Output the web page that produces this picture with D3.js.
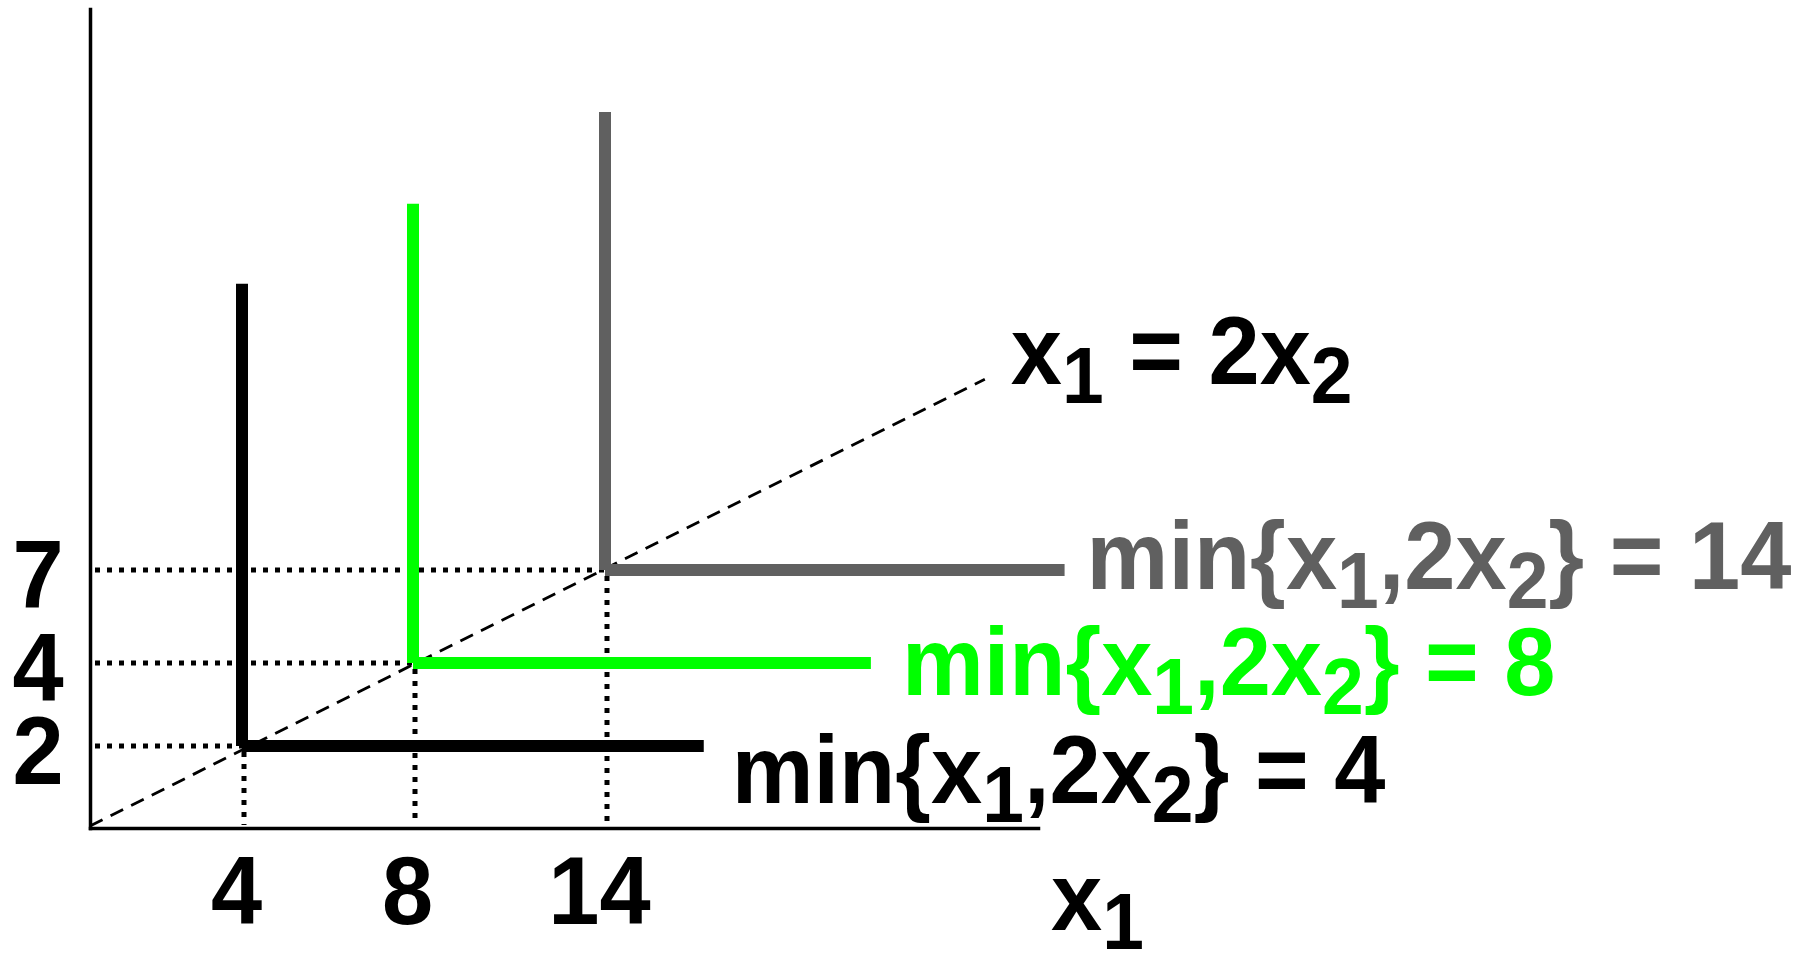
<!DOCTYPE html>
<html>
<head>
<meta charset="utf-8">
<script src="https://cdn.jsdelivr.net/npm/d3@7"></script>
<style>
  html, body { margin: 0; padding: 0; background: #fff; }
  svg text { font-family: "Liberation Sans", Arial, sans-serif; font-weight: bold; }
</style>
</head>
<body>
<svg id="chart" width="1819" height="954"></svg>
<script>
// Leontief indifference curves u = min{x1, 2x2}
const levels = [4, 8, 14]
const cornerX1 = [4, 8, 14]
const cornerX2 = [2, 4, 7]
// how far each arm of the L is drawn
const armTopX2 = [14.5, 16.6, 19]
const armEndX1 = [16.6, 21, 26.1]
const curveColors = ["#000000", "#00ff00", "#606060"]

const xTicks = [4, 8, 14]
const yTicks = [2, 4, 7]
const x1Max = 25.4
const x2Max = 21.7
const rayEnd = [24, 12]   // end of the x1 = 2x2 ray

const fontSize = 92
const subSize = 75
const subShift = 18
const stretch = "scale(1,1.05)"   // the source text is a little taller than Arial

const svg = d3.select("#chart")

// hand drawn diagram, so the ticks are not evenly spaced: piecewise scales
const x = d3.scaleLinear().domain([0, ...xTicks, x1Max]).range([90, 242, 413, 605, 1038])
const y = d3.scaleLinear().domain([0, ...yTicks, x2Max]).range([828, 746, 663, 570, 9])

const data = levels.map((u, i) => ({
  u: u,
  cx: cornerX1[i],
  cy: cornerX2[i],
  top: armTopX2[i],
  end: armEndX1[i],
  color: curveColors[i]
}))

// axes
let xAxis = svg.append("g")
  .attr("transform", "translate(0," + y(0) + ")")
  .call(d3.axisBottom(x).tickValues(xTicks).tickSize(0).tickSizeOuter(0))
let yAxis = svg.append("g")
  .attr("transform", "translate(" + x(0) + ",0)")
  .call(d3.axisLeft(y).tickValues(yTicks).tickSize(0).tickSizeOuter(0))

svg.selectAll(".domain")
  .attr("stroke", "#000")
  .attr("stroke-width", 3.5)
  .attr("stroke-linecap", "square")
svg.selectAll(".tick text")
  .attr("font-size", fontSize)
  .attr("font-family", null)
  .attr("fill", "#000")
  .attr("x", 0)
  .attr("y", 0)
  .attr("dy", 0)
  .attr("text-anchor", "middle")
xAxis.selectAll(".tick text").attr("transform", "translate(-6,96) " + stretch)
yAxis.selectAll(".tick text").attr("transform", "translate(-52,37) " + stretch)

// dotted guides to the axes
let guides = svg.append("g")
  .attr("stroke", "#000")
  .attr("stroke-width", 5)
  .attr("stroke-dasharray", "5,7")
guides.selectAll(".hguide")
  .data(data)
  .enter()
  .append("line")
  .attr("x1", x(0) + 5)
  .attr("x2", d => x(d.cx))
  .attr("y1", d => y(d.cy))
  .attr("y2", d => y(d.cy))
guides.selectAll(".vguide")
  .data(data)
  .enter()
  .append("line")
  .attr("x1", d => x(d.cx) + 2)
  .attr("x2", d => x(d.cx) + 2)
  .attr("y1", d => y(d.cy) + 6)
  .attr("y2", y(0) - 3)

// the ray x1 = 2x2
svg.append("line")
  .attr("x1", x(0))
  .attr("y1", y(0) - 2)
  .attr("x2", x(rayEnd[0]))
  .attr("y2", y(rayEnd[1]))
  .attr("stroke", "#000")
  .attr("stroke-width", 2.8)
  .attr("stroke-dasharray", "14,9")

// L-shaped indifference curves, two butt-ended arms
let curves = svg.selectAll(".curve")
  .data(data)
  .enter()
  .append("g")
  .attr("class", "curve")
  .attr("stroke", d => d.color)
  .attr("stroke-width", 12)
curves.append("line")
  .attr("x1", d => x(d.cx))
  .attr("x2", d => x(d.cx))
  .attr("y1", d => y(d.top))
  .attr("y2", d => y(d.cy))
curves.append("line")
  .attr("x1", d => x(d.cx))
  .attr("x2", d => x(d.end))
  .attr("y1", d => y(d.cy))
  .attr("y2", d => y(d.cy))

// math text helper: parts alternate normal / subscript
const mathText = (sel, parts) => {
  parts.forEach(p => {
    let t = sel.append("tspan").text(p[0])
    if (p[1] === "sub") t.attr("font-size", subSize).attr("dy", subShift)
    if (p[1] === "back") t.attr("dy", -subShift)
  })
}

const place = (px, py) => "translate(" + px + "," + py + ") " + stretch

const labelOffsets = [[28, 57], [31, 32], [22, 19]]

svg.selectAll(".level")
  .data(data)
  .enter()
  .append("text")
  .attr("class", "level")
  .attr("transform", (d, i) => place(x(d.end) + labelOffsets[i][0], y(d.cy) + labelOffsets[i][1]))
  .attr("font-size", fontSize)
  .attr("fill", d => d.color)
  .each(function(d) {
    mathText(d3.select(this), [["min{x"], ["1", "sub"], [",2x", "back"], ["2", "sub"], ["} = " + d.u, "back"]])
  })

// ray label
let rayLabel = svg.append("text")
  .attr("transform", place(x(rayEnd[0]) + 26, y(rayEnd[1]) + 5))
  .attr("font-size", fontSize)
  .attr("fill", "#000")
mathText(rayLabel, [["x"], ["1", "sub"], ["\u00a0= 2x", "back"], ["2", "sub"]])

// axis title
let xTitle = svg.append("text")
  .attr("transform", place(x(x1Max) + 13, y(0) + 102))
  .attr("font-size", fontSize)
  .attr("fill", "#000")
mathText(xTitle, [["x"], ["1", "sub"]])
</script>
</body>
</html>
